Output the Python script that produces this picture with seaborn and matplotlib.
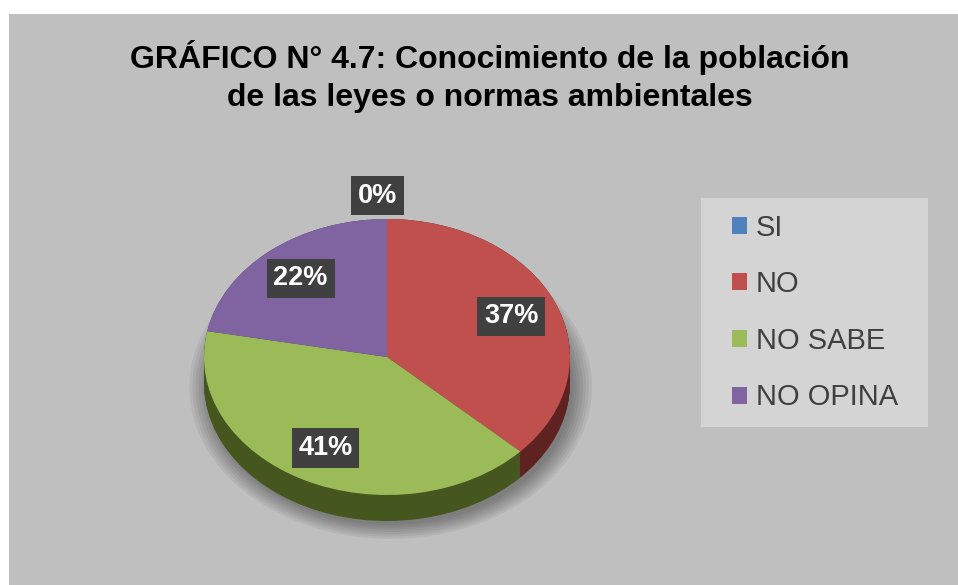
import numpy as np
import matplotlib
matplotlib.use("Agg")
import matplotlib.pyplot as plt
from matplotlib.patches import Rectangle
import seaborn as sns

# data
categories = ["SI", "NO", "NO SABE", "NO OPINA"]
values = [0, 37, 41, 22]
pct_labels = ["0%", "37%", "41%", "22%"]
title = "GRÁFICO N° 4.7: Conocimiento de la población\nde las leyes o normas ambientales"

top_colors = ["#4f81bd", "#c0504d", "#9bbb59", "#8064a2"]
side_colors = ["#2c4a70", "#5e2220", "#45561f", "#46345e"]

sns.set_style("white")
plt.rcParams["font.family"] = ["Liberation Sans", "DejaVu Sans"]

W, H = 958, 585
fig = plt.figure(figsize=(W / 100, H / 100), dpi=100, facecolor="white")

# gray chart area
fig.patches.append(Rectangle((9 / W, 0), 1 - 9 / W, 1 - 14 / H,
                             transform=fig.transFigure, facecolor="#bfbfbf",
                             edgecolor="none", zorder=-10))

# pie axes: center (387, 357) px, rx 183, ry 138
cx, cy, rx, ry = 387, 357, 183, 138
half_w, half_h = 240, 200
ax = fig.add_axes([(cx - half_w) / W, (H - cy - half_h) / H,
                   2 * half_w / W, 2 * half_h / H])
ax.set_facecolor("none")

depth = 26 / ry

# soft shadow
for r in np.linspace(1.10, 1.0, 7):
    ax.pie([1], radius=r, center=(0.02, -depth - 0.03), colors=["black"],
           wedgeprops=dict(linewidth=0, alpha=0.055))

# side of the 3D pie
for d in np.linspace(depth, 0, 30):
    ax.pie(values, colors=side_colors, startangle=90, counterclock=False,
           center=(0, -d), wedgeprops=dict(linewidth=0))

# top face
wedges, _ = ax.pie(values, colors=top_colors, startangle=90, counterclock=False,
                   wedgeprops=dict(linewidth=0))

ax.set_aspect("auto")
ax.set_xlim(-half_w / rx, half_w / rx)
ax.set_ylim(-half_h / ry, half_h / ry)
ax.axis("off")

# data labels
total = sum(values)
cum = np.cumsum(values)
for v, c, txt in zip(values, cum, pct_labels):
    ang = np.deg2rad(90 - 360 * (c - v / 2) / total)
    r = 0.74 if v > 0 else 1.17
    ax.text(r * np.cos(ang) - (0.05 if v == 0 else 0), r * np.sin(ang), txt,
            ha="center", va="center", color="white", fontsize=19.5,
            fontweight="bold", zorder=20,
            bbox=dict(boxstyle="square,pad=0.25", facecolor="#404040",
                      edgecolor="none"))

# legend box
fig.patches.append(Rectangle((701 / W, 1 - 427 / H), 227 / W, 229 / H,
                             transform=fig.transFigure, facecolor="#d4d4d4",
                             edgecolor="none", zorder=-5))
fig.legend(wedges, categories, loc="center left",
           bbox_to_anchor=(732 / W, 1 - 312.5 / H), frameon=False,
           fontsize=21, labelcolor="#404040", handlelength=0.52,
           handleheight=0.52, handletextpad=0.3, labelspacing=0.98,
           borderpad=0, borderaxespad=0)

fig.text(490 / W, 1 - 76.5 / H, title, ha="center", va="center",
         fontsize=23, fontweight="bold", color="black", linespacing=1.33)

fig.savefig("out.png", dpi=100, facecolor="white")
